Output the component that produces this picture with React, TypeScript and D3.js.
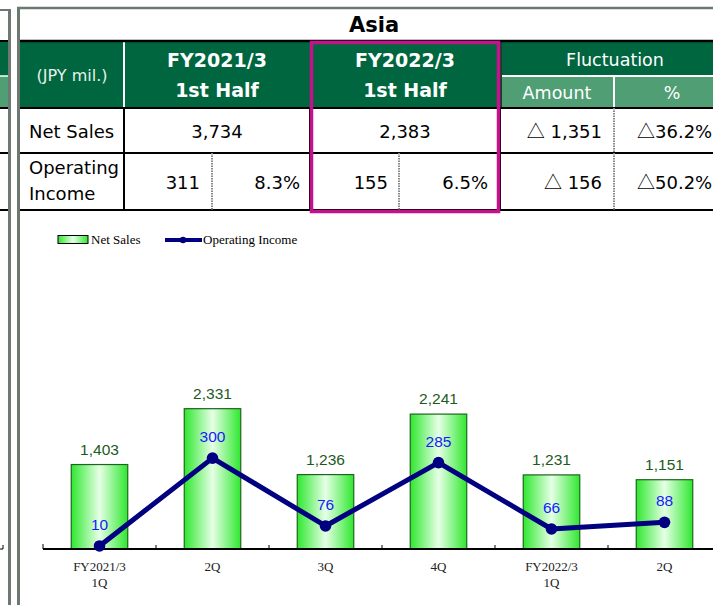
import React from "react";
import * as d3 from "d3";

// ---- data ----
const categories = ["FY2021/3\n1Q", "2Q", "3Q", "4Q", "FY2022/3\n1Q", "2Q "];
const netSales = [1403, 2331, 1236, 2241, 1231, 1151];
const operatingIncome = [10, 300, 76, 285, 66, 88];

const tableTitle = "Asia";
const headerUnit = "(JPY mil.)";
const periodHeaders = [["FY2021/3", "1st Half"], ["FY2022/3", "1st Half"]];
const fluctuationHeader = "Fluctuation";
const fluctuationSub = ["Amount", "%"];
const rowLabels = [["Net Sales"], ["Operating", "Income"]];
const netSalesRow = ["3,734", "2,383", "△ 1,351", "△36.2%"];
const opIncomeRow = ["311", "8.3%", "155", "6.5%", "△ 156", "△50.2%"];
const legendLabels = ["Net Sales", "Operating Income"];

const W = 713;
const H = 605;
const GRAY = "#6c7870";
const DKGREEN = "#00663f";
const LTGREEN = "#4f9e74";
const MAGENTA = "#c4128c";
const body = "'DejaVu Sans', Verdana, sans-serif";
const cjk = "'Noto Sans CJK JP', 'DejaVu Sans', sans-serif";
const serif = "'Liberation Serif', 'Times New Roman', serif";
const sans = "'Liberation Sans', Arial, sans-serif";

// render a string, giving the triangle glyph a full-width font
function Tri({ s }: { s: string }) {
  const parts = s.split(/(△)/).filter((p) => p !== "");
  return (
    <>
      {parts.map((p, i) =>
        p === "△" ? (
          <tspan key={i} fontFamily={cjk}>
            {p}
          </tspan>
        ) : (
          <tspan key={i}>{p}</tspan>
        )
      )}
    </>
  );
}

export default function App() {
  const baseY = 549;
  const x = d3.scaleBand<string>().domain(categories).range([43, 721]).paddingInner(0.5).paddingOuter(0.25);
  const yBar = d3.scaleLinear().domain([0, 5000]).range([baseY, baseY - 301]);
  const yLine = d3.scaleLinear().domain([0, 1000]).range([baseY, baseY - 303]);
  const cx = (c: string) => (x(c) as number) + x.bandwidth() / 2;
  const line = d3
    .line<number>()
    .x((_, i) => cx(categories[i]))
    .y((d) => yLine(d));
  const boundaries = categories.map((c) => (x(c) as number) - (x.step() * x.paddingInner()) / 2);

  // table geometry
  const cols = { unitL: 20, p1: 124, p1mid: 212, p2: 310, p2mid: 399, fl: 500, flmid: 614, r: W };
  const rows = { top: 8, h: 41, hmid: 76, hb: 108, r1: 153, r2: 210 };

  return (
    <svg
      width={W}
      height={H}
      style={{ position: "fixed", left: 0, top: 0, background: "#fff" }}
      xmlns="http://www.w3.org/2000/svg"
    >
      <defs>
        <linearGradient id="barGrad" x1="0" x2="1" y1="0" y2="0">
          <stop offset="0" stopColor="#2fe82f" />
          <stop offset="0.5" stopColor="#e6ffe6" />
          <stop offset="1" stopColor="#2fe82f" />
        </linearGradient>
      </defs>
      <rect x={0} y={0} width={W} height={H} fill="#fff" />

      {/* left clipped table piece */}
      <line x1={0} x2={8} y1={10} y2={10} stroke={GRAY} strokeWidth={2} />
      <rect x={0} y={rows.h} width={8} height={rows.hmid - rows.h} fill={DKGREEN} />
      <rect x={0} y={rows.hmid} width={8} height={rows.hb - rows.hmid} fill={LTGREEN} />
      <line x1={0} x2={8} y1={rows.hmid} y2={rows.hmid} stroke="#fff" strokeWidth={1.5} />
      {[rows.h, rows.hb, rows.r1, rows.r2].map((yy, i) => (
        <line key={i} x1={0} x2={8} y1={yy} y2={yy} stroke="#000" strokeWidth={2} />
      ))}
      <path d={`M0,${baseY} L3,${baseY} L3,${baseY - 4}`} fill="none" stroke="#000" strokeWidth={1} />

      {/* separator bars */}
      <rect x={8} y={9} width={3} height={H} fill={GRAY} />
      <rect x={17} y={8} width={3} height={H} fill={GRAY} />
      <line x1={17} x2={W} y1={8} y2={8} stroke={GRAY} strokeWidth={2.5} />

      {/* title */}
      <text x={374} y={32} textAnchor="middle" fontFamily={body} fontWeight="bold" fontSize={21} fill="#000">
        {tableTitle}
      </text>

      {/* header */}
      <rect x={cols.unitL} y={rows.h} width={W - cols.unitL} height={rows.hb - rows.h} fill={DKGREEN} />
      <rect x={cols.fl} y={rows.hmid} width={W - cols.fl} height={rows.hb - rows.hmid} fill={LTGREEN} />
      <line x1={cols.fl} x2={W} y1={rows.hmid} y2={rows.hmid} stroke="#fff" strokeWidth={2} />
      <line x1={cols.p1} x2={cols.p1} y1={rows.h} y2={rows.hb} stroke="#fff" strokeWidth={2} />
      <line x1={cols.flmid} x2={cols.flmid} y1={rows.hmid} y2={rows.hb} stroke="#fff" strokeWidth={2} />
      <line x1={cols.fl + 1} x2={cols.fl + 1} y1={rows.h} y2={rows.hb} stroke="#1a3a2a" strokeWidth={2} />
      <text x={72} y={81} textAnchor="middle" fontFamily={body} fontSize={16} fill="#e8f2ec">
        {headerUnit}
      </text>
      {periodHeaders.map((ph, i) => {
        const c = i === 0 ? (cols.p1 + cols.p2) / 2 : (cols.p2 + cols.fl) / 2;
        return (
          <g key={i}>
            <text x={c} y={67} textAnchor="middle" fontFamily={body} fontWeight="bold" fontSize={19} fill="#fff">
              {ph[0]}
            </text>
            <text x={c} y={97} textAnchor="middle" fontFamily={body} fontWeight="bold" fontSize={19} fill="#fff">
              {ph[1]}
            </text>
          </g>
        );
      })}
      <text x={615} y={66} textAnchor="middle" fontFamily={body} fontSize={17.5} fill="#fff">
        {fluctuationHeader}
      </text>
      <text x={557} y={99} textAnchor="middle" fontFamily={body} fontSize={17.5} fill="#fff">
        {fluctuationSub[0]}
      </text>
      <text x={672} y={99} textAnchor="middle" fontFamily={body} fontSize={17.5} fill="#fff">
        {fluctuationSub[1]}
      </text>

      {/* body lines */}
      <line x1={cols.unitL} x2={W} y1={rows.h} y2={rows.h} stroke="#000" strokeWidth={2.5} />
      {[rows.hb, rows.r1, rows.r2].map((yy, i) => (
        <line key={i} x1={cols.unitL} x2={W} y1={yy} y2={yy} stroke="#000" strokeWidth={2} />
      ))}
      {[cols.p1, cols.p2, cols.fl].map((xx, i) => (
        <line key={i} x1={xx} x2={xx} y1={rows.hb} y2={rows.r2} stroke="#000" strokeWidth={2} />
      ))}
      <line x1={cols.flmid} x2={cols.flmid} y1={rows.hb} y2={rows.r2} stroke="#888" strokeWidth={2} strokeDasharray="1.5,1" />
      {[cols.p1mid, cols.p2mid].map((xx, i) => (
        <line key={i} x1={xx} x2={xx} y1={rows.r1} y2={rows.r2} stroke="#888" strokeWidth={2} strokeDasharray="1.5,1" />
      ))}

      {/* body text */}
      <text x={29} y={138} fontFamily={body} fontSize={18} fill="#000">{rowLabels[0][0]}</text>
      <text x={29} y={174} fontFamily={body} fontSize={18} fill="#000">{rowLabels[1][0]}</text>
      <text x={29} y={200} fontFamily={body} fontSize={18} fill="#000">{rowLabels[1][1]}</text>

      <text x={217} y={138} textAnchor="middle" fontFamily={body} fontSize={18} fill="#000">{netSalesRow[0]}</text>
      <text x={405} y={138} textAnchor="middle" fontFamily={body} fontSize={18} fill="#000">{netSalesRow[1]}</text>
      <text x={602} y={138} textAnchor="end" fontFamily={body} fontSize={18} fill="#000"><Tri s={netSalesRow[2]} /></text>
      <text x={637} y={138} fontFamily={body} fontSize={18} fill="#000"><Tri s={netSalesRow[3]} /></text>

      <text x={200} y={189} textAnchor="end" fontFamily={body} fontSize={18} fill="#000">{opIncomeRow[0]}</text>
      <text x={300} y={189} textAnchor="end" fontFamily={body} fontSize={18} fill="#000">{opIncomeRow[1]}</text>
      <text x={388} y={189} textAnchor="end" fontFamily={body} fontSize={18} fill="#000">{opIncomeRow[2]}</text>
      <text x={488} y={189} textAnchor="end" fontFamily={body} fontSize={18} fill="#000">{opIncomeRow[3]}</text>
      <text x={602} y={189} textAnchor="end" fontFamily={body} fontSize={18} fill="#000"><Tri s={opIncomeRow[4]} /></text>
      <text x={637} y={189} fontFamily={body} fontSize={18} fill="#000"><Tri s={opIncomeRow[5]} /></text>

      {/* highlight box */}
      <rect x={cols.p2 + 1.5} y={rows.h + 1.5} width={cols.fl - cols.p2 - 3} height={rows.r2 - rows.h} fill="none" stroke={MAGENTA} strokeWidth={3.5} />

      {/* legend */}
      <rect x={58} y={235.5} width={30} height={8} fill="url(#barGrad)" stroke="#000" strokeWidth={1} />
      <text x={91} y={244} fontFamily={serif} fontSize={13} fill="#000">{legendLabels[0]}</text>
      <line x1={165} x2={202} y1={240} y2={240} stroke="#000080" strokeWidth={4} />
      <circle cx={183} cy={240} r={3.2} fill="#000080" />
      <text x={203} y={244} fontFamily={serif} fontSize={13} fill="#000">{legendLabels[1]}</text>

      {/* bars */}
      {categories.map((c, i) => (
        <rect
          key={c}
          x={x(c)}
          y={yBar(netSales[i])}
          width={x.bandwidth()}
          height={baseY - yBar(netSales[i])}
          fill="url(#barGrad)"
          stroke="#1e641e"
          strokeWidth={1.2}
        />
      ))}

      {/* axis */}
      <line x1={43} x2={W} y1={baseY} y2={baseY} stroke="#000" strokeWidth={2} />
      {boundaries.map((b, i) => (
        <line key={i} x1={b} x2={b} y1={baseY} y2={baseY - (i === 0 ? 5 : 4)} stroke="#000" strokeWidth={1} />
      ))}
      {categories.map((c) => {
        const parts = c.trim().split("\n");
        return (
          <text key={c} x={cx(c)} y={571} textAnchor="middle" fontFamily={serif} fontSize={13} fill="#222">
            {parts.map((p, j) => (
              <tspan key={j} x={cx(c)} dy={j === 0 ? 0 : 16}>
                {p}
              </tspan>
            ))}
          </text>
        );
      })}

      {/* net sales labels */}
      {categories.map((c, i) => (
        <text key={c} x={cx(c)} y={yBar(netSales[i]) - 10} textAnchor="middle" fontFamily={sans} fontSize={15.5} fill="#1d5a1d">
          {d3.format(",")(netSales[i])}
        </text>
      ))}

      {/* line */}
      <path d={line(operatingIncome) as string} fill="none" stroke="#000080" strokeWidth={5} strokeLinejoin="round" />
      {categories.map((c, i) => (
        <circle key={c} cx={cx(c)} cy={yLine(operatingIncome[i])} r={5.8} fill="#000080" />
      ))}
      {categories.map((c, i) => (
        <text key={c} x={cx(c)} y={yLine(operatingIncome[i]) - 16} textAnchor="middle" fontFamily={sans} fontSize={15.5} fill="#1a1aff">
          {operatingIncome[i]}
        </text>
      ))}
    </svg>
  );
}
